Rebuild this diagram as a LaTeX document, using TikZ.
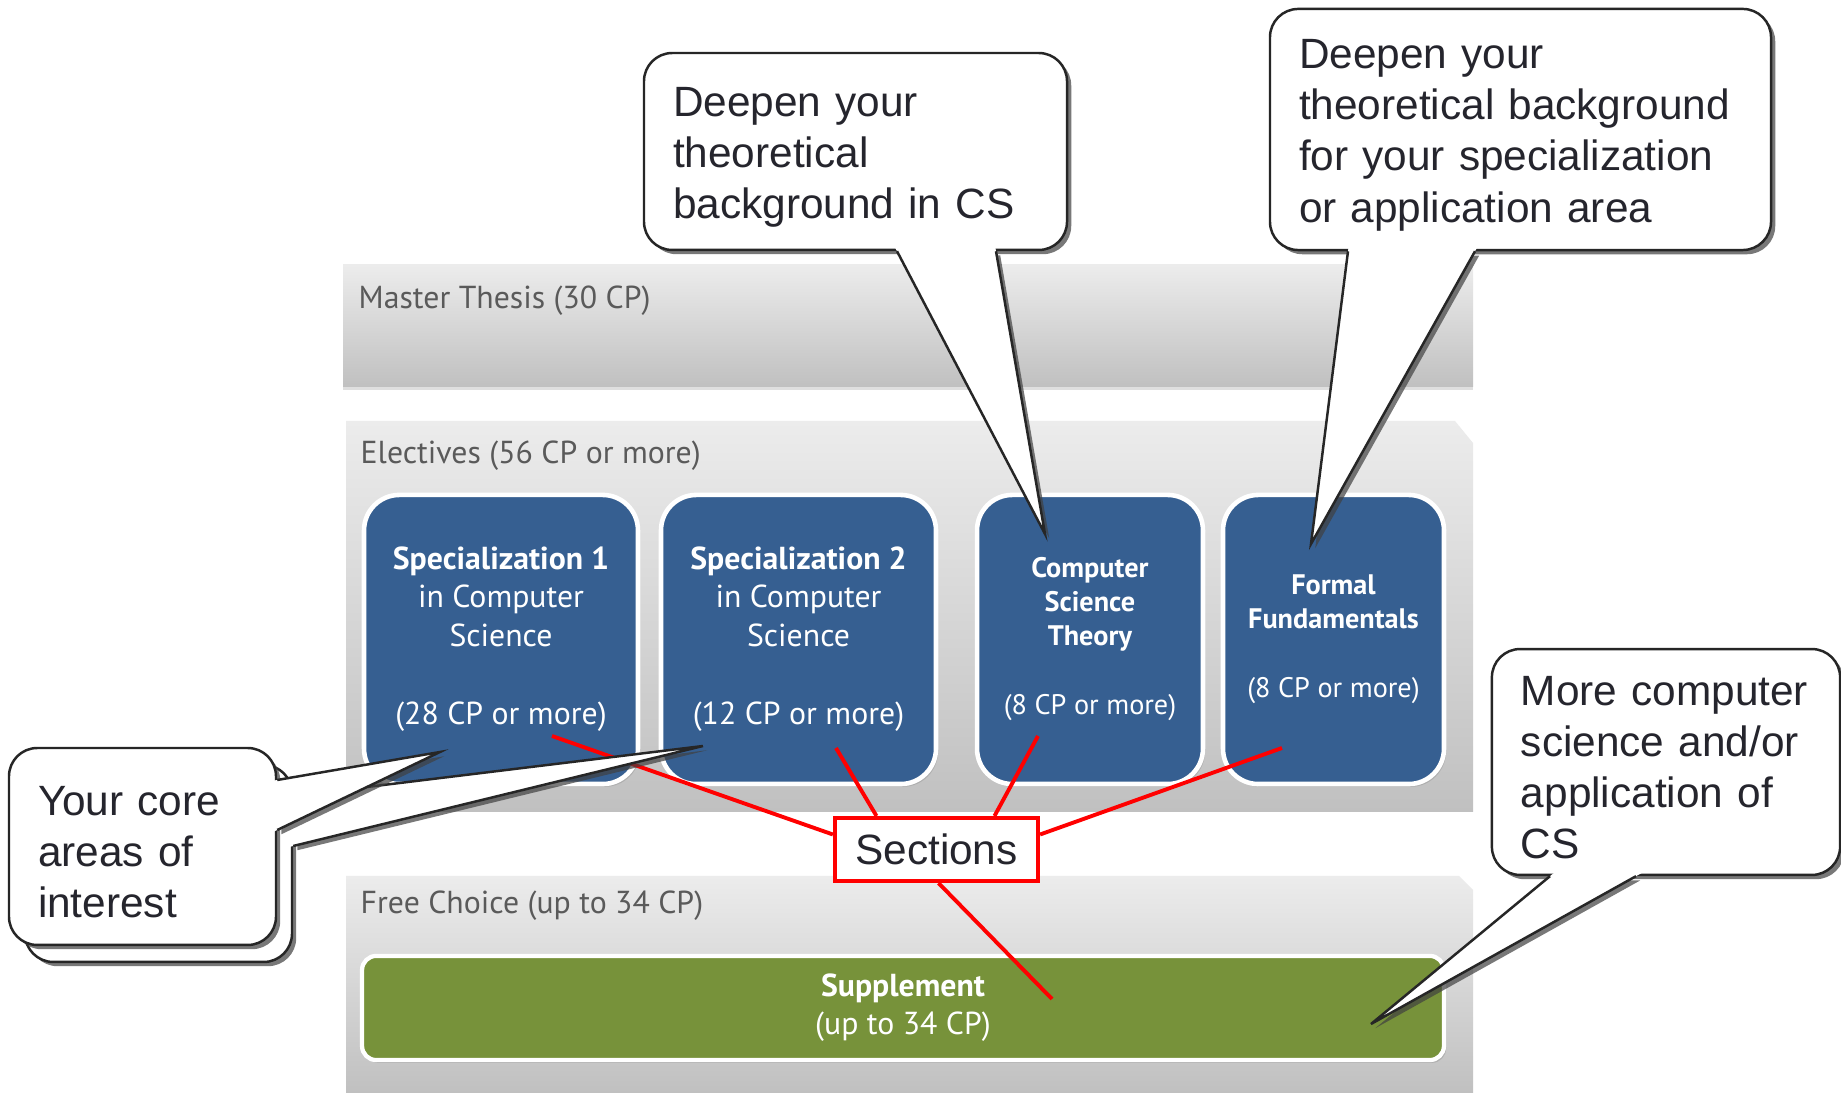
\documentclass[tikz,border=0pt]{standalone}
\usepackage{fontspec}
\setmainfont{Liberation Sans}
\newfontfamily\ptsans{PT Sans}
\usepackage{xcolor}
\usepackage{tikz}
\usetikzlibrary{positioning}
\usetikzlibrary{calc, shadows}

\definecolor{modblue}{HTML}{365F91}
\definecolor{suppgreen}{HTML}{77923A}
\definecolor{bandtop}{HTML}{ECECEC}
\definecolor{bandbottom}{HTML}{C0C0C0}
\definecolor{labelgray}{HTML}{5A5A5A}
\definecolor{calltext}{HTML}{25252D}

\tikzset{
  band/.style={top color=bandtop, bottom color=bandbottom, draw=none},
  bandlabel/.style={anchor=west, text=labelgray, inner sep=0pt,
    font=\ptsans\fontsize{9}{10.8}\selectfont},
  module/.style={fill=modblue, draw=white, line width=1.3pt, rounded corners=10pt,
    text=white, align=center, minimum height=81.9pt,
    font=\ptsans\fontsize{9}{10.8}\selectfont,
    drop shadow={shadow xshift=0.6pt, shadow yshift=-0.8pt, opacity=0.3}},
  smallmod/.style={font=\ptsans\fontsize{8}{9.6}\selectfont},
  supplement/.style={fill=suppgreen, draw=white, line width=1.2pt, rounded corners=4pt,
    text=white, align=center, minimum width=306.5pt, minimum height=29.5pt,
    font=\ptsans\fontsize{9}{10.8}\selectfont,
    drop shadow={shadow xshift=0.6pt, shadow yshift=-0.8pt, opacity=0.3}},
  sectionbox/.style={draw=red, fill=white, line width=1.2pt, inner sep=0pt,
    minimum width=57.5pt, minimum height=17.8pt, text=calltext,
    font=\fontsize{12}{14}\selectfont},
  sectionline/.style={red, line width=1.1pt},
  calloutshadow/.style={drop shadow={shadow xshift=1.2pt, shadow yshift=-1.2pt,
    fill=black!75, opacity=0.7}},
  callout/.style={fill=white, draw=black!85, line width=0.7pt, rounded corners=8pt,
    align=left, text=calltext, inner xsep=8.22pt,
    font=\fontsize{12}{14.5}\selectfont, calloutshadow,
    execute at begin node={\rule{0pt}{11.5pt}}},
  pointerline/.style={draw=black!85, line width=0.7pt, line join=miter},
}

% wedge of a callout: base points #1 and #2, tip #3
\newcommand{\pointer}[3]{%
  \path[fill=white, calloutshadow] (#1) -- (#3) -- (#2) -- cycle;
  \fill[white] ($(#1)!-3pt!(#3)$) -- (#3) -- ($(#2)!-3pt!(#3)$) -- cycle;
  \draw[pointerline] (#1) -- (#3) -- (#2);}

\begin{document}
\begin{tikzpicture}[x=0.2833pt, y=-0.2833pt]
    \useasboundingbox[fill=white] (0,0) rectangle (1841,1093);

    % bands
    \shade[band, drop shadow={shadow xshift=0pt, shadow yshift=-0.8pt, opacity=0.25}]
        (343,265) rectangle (1473,387);
    \node[bandlabel] (mt) at (358,301) {Master Thesis (30 CP)};
    \shade[band] (346,421) -- (1455,421) -- (1473,443) -- (1473,812) -- (346,812) -- cycle;
    \node[bandlabel] (el) at (360,456) {Electives (56 CP or more)};
    \shade[band] (346,876) -- (1459,876) -- (1473,890) -- (1473,1093) -- (346,1093) -- cycle;
    \node[bandlabel] (fc) at (360,906) {Free Choice (up to 34 CP)};

    % modules
    \node[module, minimum width=77.6pt] (spA) at (501,639.5)
        {\textbf{Specialization 1}\\in Computer\\Science\\[11.5pt](28 CP or more)};
    \node[module, minimum width=77.9pt] (spB) at (798.5,639.5)
        {\textbf{Specialization 2}\\in Computer\\Science\\[11.5pt](12 CP or more)};
    \node[module, smallmod, minimum width=64pt] (cst) at (1090,639.5)
        {\textbf{Computer}\\\textbf{Science}\\\textbf{Theory}\\[10pt](8 CP or more)};
    \node[module, smallmod, minimum width=62.6pt] (fof) at (1333.5,639.5)
        {\textbf{Formal}\\\textbf{Fundamentals}\\[10pt](8 CP or more)};
    \node[supplement] (supp) at (903,1008) {\textbf{Supplement}\\(up to 34 CP)};

    % sections
    \coordinate (rA) at (552,736);
    \coordinate (rB) at (836,748);
    \coordinate (rC) at (1038,736);
    \coordinate (rD) at (1282,748);
    \coordinate (rE) at (1052,999);
    \node[sectionbox] (sec) at (936.5,849.5) {Sections};
    \draw[sectionline] ($(sec.west)+(0,-15)$) -- (rA);
    \draw[sectionline] ($(sec.north)+(-60,0)$) -- (rB);
    \draw[sectionline] ($(sec.north)+(58,0)$) -- (rC);
    \draw[sectionline] ($(sec.east)+(0,-15)$) -- (rD);
    \draw[sectionline] ($(sec.south)+(2,0)$) -- (rE);

    % callouts
    \node[callout, text width=103.4pt, minimum height=55.8pt] (cA) at (855.5,151.5)
        {Deepen your\\theoretical\\background in CS};
    \coordinate (cAtip) at (1045,534);
    \pointer{$(cA.south)+(41.5,0)$}{$(cA.south)+(140.5,0)$}{cAtip}

    \node[callout, text width=125.5pt, minimum height=68.3pt] (cB) at (1520.5,129.5)
        {Deepen your\\theoretical background\\for your specialization\\or application area};
    \coordinate (cBtip) at (1311,544);
    \pointer{$(cB.south)+(-172.5,0)$}{$(cB.south)+(-45.5,0)$}{cBtip}

    \node[callout, text width=82.2pt, minimum height=64pt] (cC) at (1666,762)
        {More computer\\science and/or\\application of\\CS};
    \coordinate (cCtip) at (1371,1024);
    \pointer{$(cC.south)+(-116,0)$}{$(cC.south)+(-30,0)$}{cCtip}

    \node[callout, text width=59.2pt, minimum height=55.8pt] (cE) at (158.5,863.5) {};
    \coordinate (cEtip) at (703,746);
    \pointer{$(cE.east)+(0,-67.5)$}{$(cE.east)+(0,-17.5)$}{cEtip}

    \node[callout, text width=59.2pt, minimum height=55.8pt] (cD) at (142.5,846.5)
        {Your core\\areas of\\interest};
    \coordinate (cDtip) at (440,752);
    \pointer{$(cD.east)+(0,-66.5)$}{$(cD.east)+(0,-16.5)$}{cDtip}
\end{tikzpicture}
\end{document}
